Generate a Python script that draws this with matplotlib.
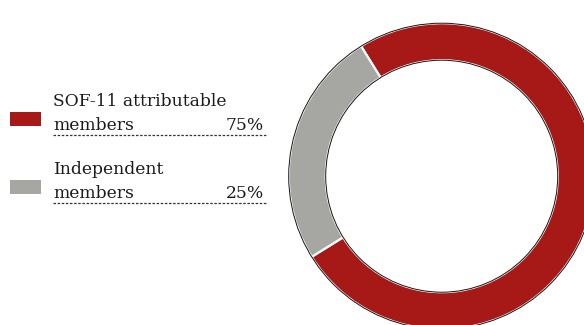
import matplotlib.pyplot as plt
from matplotlib.patches import Circle, Rectangle

# Board composition
labels = ["SOF-11 attributable\nmembers", "Independent\nmembers"]
shares = [75, 25]
colors = ["#A61917", "#A6A7A2"]

W, H = 584, 325
fig = plt.figure(figsize=(W / 100, H / 100), dpi=100)
ax = fig.add_axes([0, 0, 1, 1])

# donut (pixel coords, y flipped)
cx, cy = 441.7, H - 176.2
r_out, r_in = 153, 116
ax.pie(shares, colors=colors, radius=r_out, center=(cx, cy),
       startangle=211.8, counterclock=True,
       wedgeprops=dict(width=r_out - r_in, edgecolor="white", linewidth=1.6))
for r in (r_out, r_in):
    ax.add_patch(Circle((cx, cy), r, fill=False, edgecolor="#111111", linewidth=0.7))

# legend rows
font = dict(family="DejaVu Serif", size=12.3, color="#1a1a1a")
for i, (lab, val, col) in enumerate(zip(labels, shares, colors)):
    y0 = 106 + i * 68  # baseline of first line, px from top
    first, second = lab.split("\n")
    ax.add_patch(Rectangle((10, H - (y0 + 20)), 31, 14, color=col, lw=0))
    ax.text(53, H - y0, first, va="baseline", ha="left", **font)
    ax.text(53, H - (y0 + 24), second, va="baseline", ha="left", **font)
    ax.text(264, H - (y0 + 24), f"{val}%", va="baseline", ha="right", **font)
    ax.plot([53, 267], [H - (y0 + 29), H - (y0 + 29)], color="#333333",
            lw=0.9, linestyle=(0, (2, 1.3)))

ax.set_xlim(0, W)
ax.set_ylim(0, H)
ax.set_aspect("equal")
ax.axis("off")

plt.savefig("out.png", dpi=100)
plt.close()
